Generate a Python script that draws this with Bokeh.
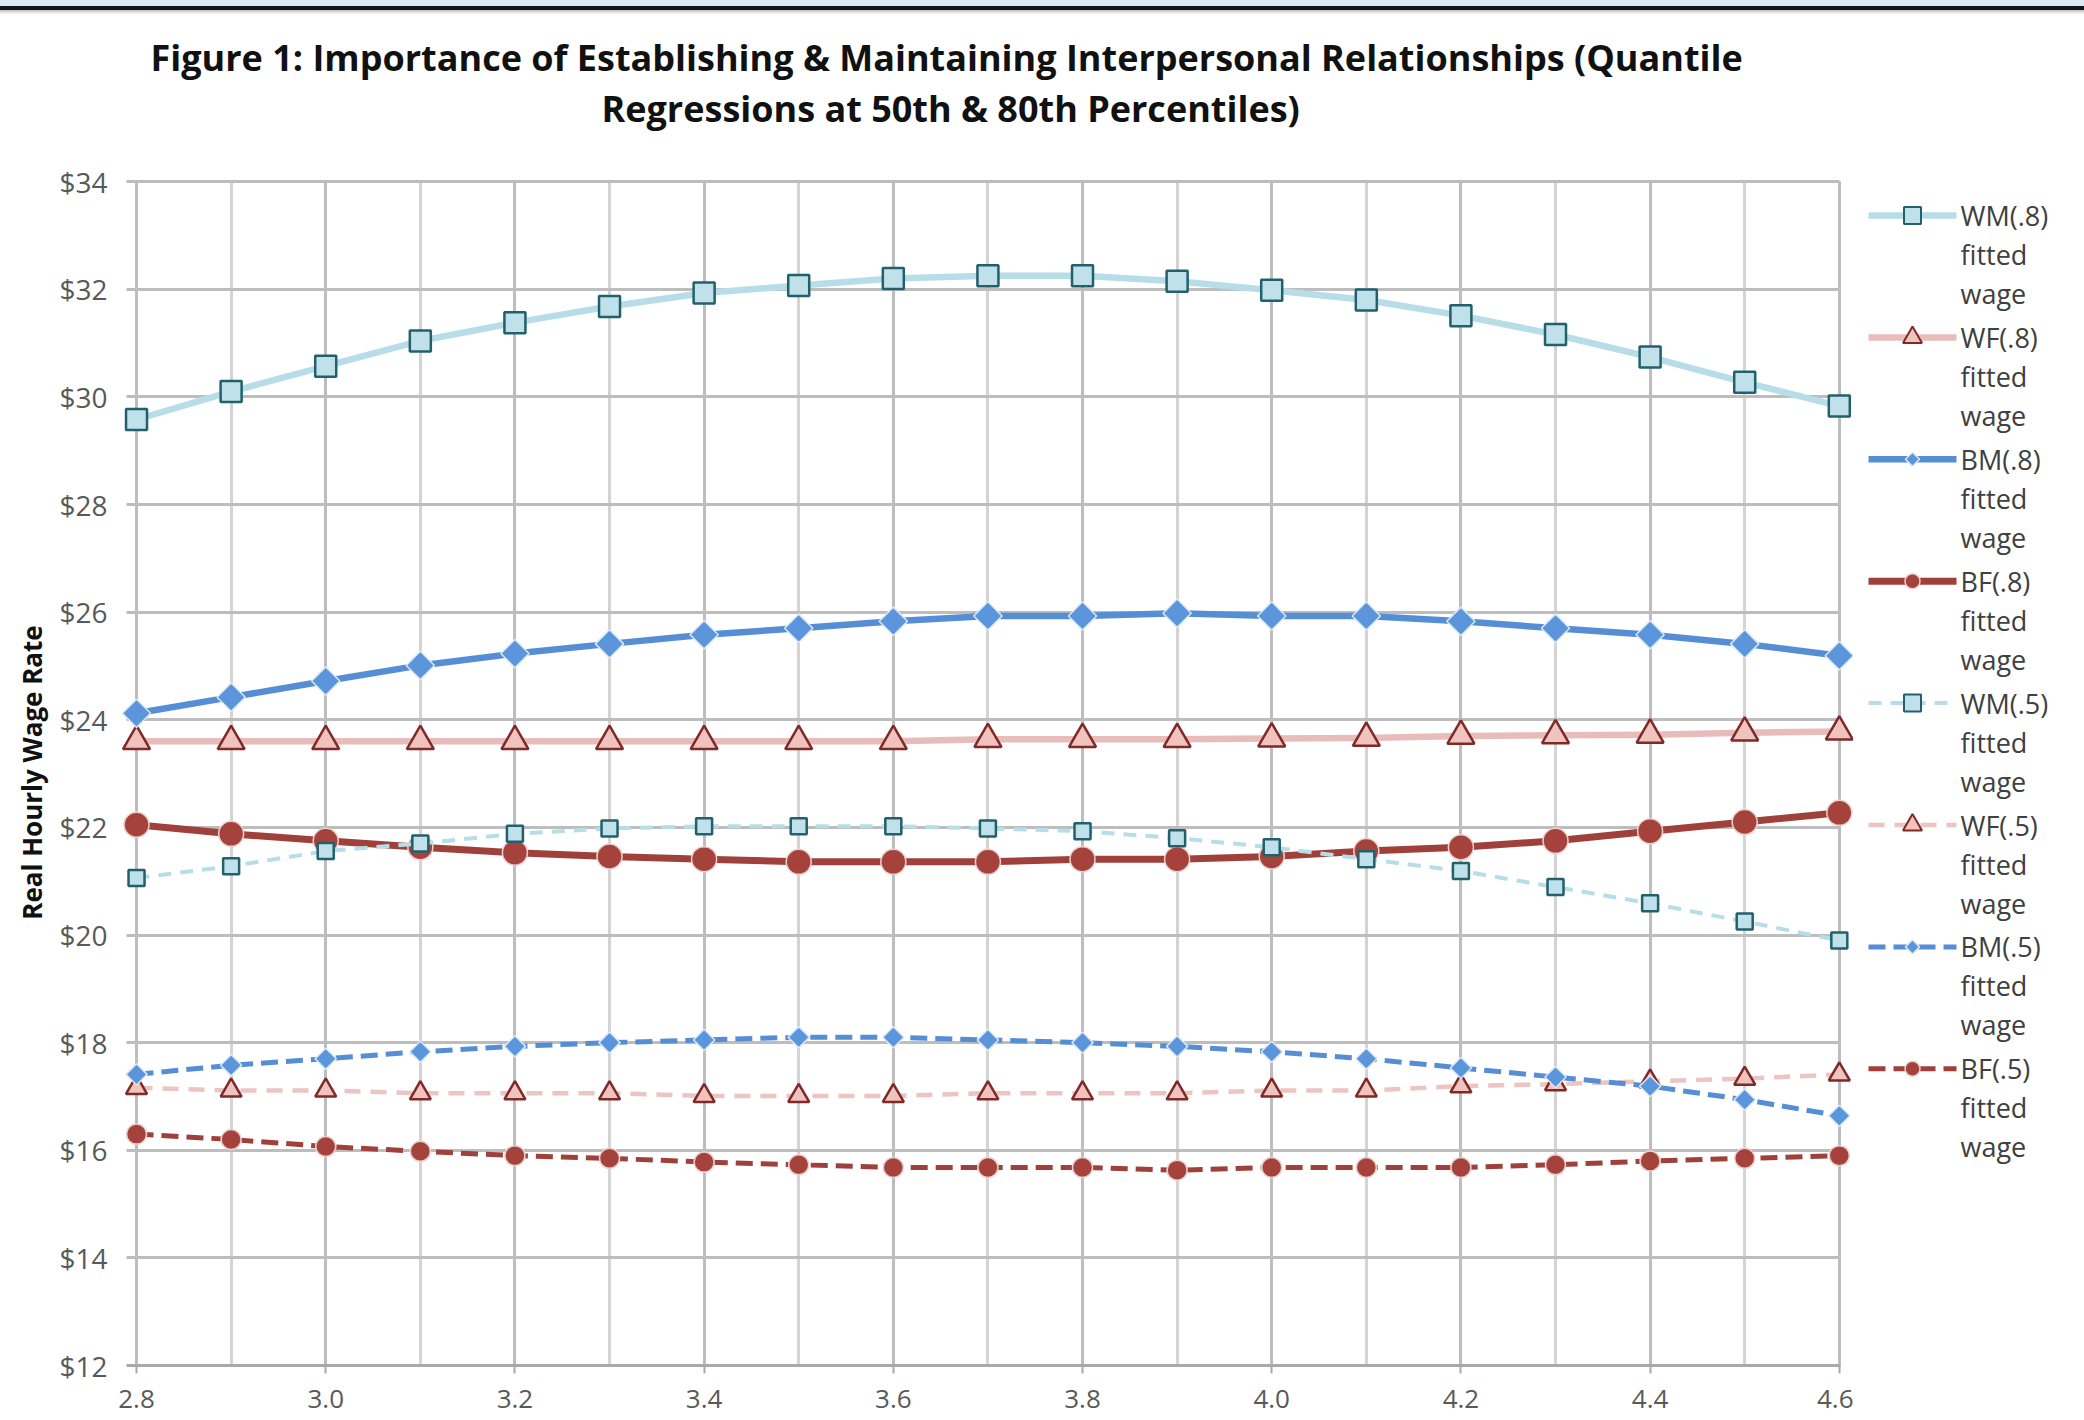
from bokeh.plotting import figure
from bokeh.layouts import column, row
from bokeh.models import (Range1d, SingleIntervalTicker, PrintfTickFormatter,
                          Title, Div)
from bokeh.core.properties import value
from bokeh.embed import file_html
from bokeh.resources import INLINE
import math

# GPA values on the horizontal axis
gpa = [2.8, 2.9, 3.0, 3.1, 3.2, 3.3, 3.4, 3.5, 3.6, 3.7,
       3.8, 3.9, 4.0, 4.1, 4.2, 4.3, 4.4, 4.5, 4.6]

# fitted hourly wages, 80th percentile
wm80 = [29.58, 30.10, 30.57, 31.04, 31.38, 31.68, 31.93, 32.07, 32.20, 32.25,
        32.25, 32.15, 31.98, 31.80, 31.51, 31.16, 30.74, 30.27, 29.83]
wf80 = [23.60, 23.60, 23.60, 23.60, 23.60, 23.60, 23.60, 23.60, 23.60, 23.64,
        23.64, 23.64, 23.65, 23.66, 23.70, 23.71, 23.72, 23.76, 23.78]
bm80 = [24.12, 24.42, 24.72, 25.01, 25.23, 25.41, 25.58, 25.70, 25.83, 25.93,
        25.93, 25.98, 25.93, 25.93, 25.83, 25.70, 25.58, 25.41, 25.19]
bf80 = [22.05, 21.88, 21.75, 21.63, 21.53, 21.46, 21.41, 21.36, 21.36, 21.36,
        21.41, 21.41, 21.46, 21.56, 21.63, 21.75, 21.93, 22.10, 22.27]

# fitted hourly wages, 50th percentile
wm50 = [21.06, 21.28, 21.56, 21.70, 21.88, 21.98, 22.02, 22.02, 22.02, 21.98,
        21.93, 21.80, 21.63, 21.41, 21.19, 20.89, 20.59, 20.25, 19.90]
wf50 = [17.16, 17.11, 17.11, 17.06, 17.06, 17.06, 17.01, 17.01, 17.01, 17.06,
        17.06, 17.06, 17.11, 17.11, 17.19, 17.23, 17.28, 17.33, 17.41]
bm50 = [17.41, 17.58, 17.70, 17.83, 17.93, 18.00, 18.05, 18.10, 18.10, 18.05,
        18.00, 17.93, 17.83, 17.70, 17.53, 17.36, 17.19, 16.94, 16.64]
bf50 = [16.30, 16.20, 16.07, 15.98, 15.90, 15.85, 15.78, 15.73, 15.68, 15.68,
        15.68, 15.63, 15.68, 15.68, 15.68, 15.73, 15.80, 15.85, 15.90]

series_names = ["WM(.8)", "WF(.8)", "BM(.8)", "BF(.8)",
                "WM(.5)", "WF(.5)", "BM(.5)", "BF(.5)"]
legend_tail = ["fitted", "wage"]

title_lines = ["Figure 1: Importance of Establishing & Maintaining Interpersonal Relationships (Quantile",
               "Regressions at 50th & 80th Percentiles)"]

FONT = "Open Sans"
TICK_GRAY = "#595959"
GRID = "#bdbdbd"

BAND_H = 14
PLOT_W, PLOT_H = 1853, 1406
LEG_W = 2084 - PLOT_W
BORDER_TOP, BORDER_BOTTOM = 165, 55

p = figure(width=PLOT_W, height=PLOT_H,
           x_range=Range1d(2.782, 4.615), y_range=Range1d(12, 34.04),
           output_backend="svg", toolbar_location=None, title=None,
           min_border_left=119, min_border_right=0,
           min_border_top=BORDER_TOP, min_border_bottom=BORDER_BOTTOM,
           background_fill_color="white", border_fill_color="white",
           outline_line_color=None)

# axes
xt = SingleIntervalTicker(interval=0.2, num_minor_ticks=2)
yt = SingleIntervalTicker(interval=2, num_minor_ticks=0)
p.xaxis.ticker = xt
p.yaxis.ticker = yt
p.xaxis.formatter = PrintfTickFormatter(format="%.1f")
p.yaxis.formatter = PrintfTickFormatter(format="$%d")

for ax in (p.xaxis, p.yaxis):
    ax.major_label_text_font = FONT
    ax.major_label_text_color = TICK_GRAY
    ax.minor_tick_line_color = None

p.yaxis.major_label_text_font_size = "28px"
p.xaxis.major_label_text_font_size = "26px"

p.yaxis.axis_line_color = None
p.yaxis.major_tick_line_color = None
p.yaxis.major_tick_out = 0
p.yaxis.major_tick_in = 0
p.yaxis.major_label_standoff = 12
p.yaxis.axis_label = "Real Hourly Wage Rate"
p.yaxis.axis_label_text_font = FONT
p.yaxis.axis_label_text_font_style = "bold"
p.yaxis.axis_label_text_font_size = "26px"
p.yaxis.axis_label_text_color = "#111111"
p.yaxis.axis_label_standoff = 6

# the upper bound sits a hair past 4.6 so the last tick survives rounding
p.xaxis.bounds = (2.789, 4.601)
p.xaxis.axis_line_color = "#a9a9a9"
p.xaxis.axis_line_width = 3
p.xaxis.major_tick_line_color = "#a9a9a9"
p.xaxis.major_tick_line_width = 2
p.xaxis.major_tick_out = 8
p.xaxis.major_tick_in = 0
p.xaxis.major_label_standoff = 16

# grid
p.xgrid.ticker = xt
p.ygrid.ticker = yt
p.xgrid.grid_line_color = GRID
p.xgrid.grid_line_width = 3
p.xgrid.minor_grid_line_color = "#d4d4d4"
p.xgrid.minor_grid_line_width = 3
p.ygrid.grid_line_color = GRID
p.ygrid.grid_line_width = 3
# keep the grid inside the plotted span (short stubs to the left of 2.8)
try:
    p.xgrid.cross_bounds = (12, 34)
    p.ygrid.cross_bounds = (2.789, 4.6)
except AttributeError:
    pass

# series styles: line, marker, and the smaller marker used in the key
styles = [
    dict(y=wm80, lc="#b7dee8", lw=6.5, dash="solid", m="square", s=21, ks=17, fc="#c0e1ea", mc="#23606e", mw=2.5, a=0),
    dict(y=wf80, lc="#e8bcba", lw=6.5, dash="solid", m="triangle", s=27, ks=19, fc="#f0c3bf", mc="#7f2a27", mw=2.5, a=0),
    dict(y=bm80, lc="#558ed5", lw=6.5, dash="solid", m="square", s=20, ks=10, fc="#5b96dc", mc="#dce8f7", mw=1.5, a=math.pi / 4),
    dict(y=bf80, lc="#a0403b", lw=7, dash="solid", m="circle", s=25, ks=15, fc="#a5423c", mc="#ead2d0", mw=1.5, a=0),
    dict(y=wm50, lc="#b7dee8", lw=4, dash="13 9", m="square", s=16, ks=17, fc="#c0e1ea", mc="#23606e", mw=2.5, a=0),
    dict(y=wf50, lc="#ecc4c2", lw=4.5, dash="16 10", m="triangle", s=21, ks=19, fc="#f0c3bf", mc="#7f2a27", mw=2.5, a=0),
    dict(y=bm50, lc="#558ed5", lw=5, dash="17 8", m="square", s=15, ks=10, fc="#5b96dc", mc="#dce8f7", mw=1.5, a=math.pi / 4),
    dict(y=bf50, lc="#a0403b", lw=5, dash="17 8", m="circle", s=20, ks=15, fc="#a5423c", mc="#ead2d0", mw=1.5, a=0),
]

for st in styles:
    p.line(gpa, st["y"], line_color=st["lc"], line_width=st["lw"],
           line_dash=st["dash"], line_join="round")
    p.scatter(gpa, st["y"], marker=st["m"], size=st["s"], angle=st["a"],
              fill_color=st["fc"], line_color=st["mc"], line_width=st["mw"])

# title: gap above the frame, then the second and first lines stacked upwards
p.add_layout(Title(text=" ", text_font=FONT, text_font_size="12px", standoff=28), "above")
p.add_layout(Title(text=title_lines[1], align="left", offset=482, standoff=0,
                   text_font=FONT, text_font_style="bold", text_font_size="36px",
                   text_color="#111111"), "above")
p.add_layout(Title(text=title_lines[0], align="left", offset=31, standoff=0,
                   text_font=FONT, text_font_style="bold", text_font_size="36px",
                   text_color="#111111"), "above")

# key panel to the right of the chart; its frame lines up with the chart's frame,
# so its vertical range is expressed in page pixels (growing downward)
frame_top_px = BAND_H + BORDER_TOP
frame_bottom_px = BAND_H + PLOT_H - BORDER_BOTTOM
key = figure(width=LEG_W, height=PLOT_H, x_range=Range1d(0, LEG_W),
             y_range=Range1d(frame_bottom_px, frame_top_px), output_backend="svg",
             toolbar_location=None, x_axis_type=None, y_axis_type=None,
             min_border_left=0, min_border_right=0,
             min_border_top=BORDER_TOP, min_border_bottom=BORDER_BOTTOM,
             outline_line_color=None,
             background_fill_color="white", border_fill_color="white")
key.grid.visible = False

KEY_X0, KEY_X1 = 15, 103          # sample line extent
KEY_TEXT_X = 107
KEY_TOP, KEY_PITCH, KEY_LINE = 215, 121.9, 39

for i, (name, st) in enumerate(zip(series_names, styles)):
    yc = KEY_TOP + i * KEY_PITCH
    key.line([KEY_X0, KEY_X1], [yc, yc], line_color=st["lc"], line_width=st["lw"],
             line_dash=st["dash"])
    key.scatter([(KEY_X0 + KEY_X1) / 2], [yc], marker=st["m"], size=st["ks"],
                angle=st["a"], fill_color=st["fc"], line_color=st["mc"],
                line_width=min(st["mw"], 2))
    rows = [name] + legend_tail
    key.text([KEY_TEXT_X] * 3, [yc + k * KEY_LINE for k in range(3)], text=rows,
             text_font=value(FONT), text_font_size="27px", text_baseline="middle",
             text_align="left", text_color="#404040")

band = Div(text="", width=2084, height=BAND_H, margin=0,
           styles={"background": "linear-gradient(to bottom, #dcebf3 0px, #dcebf3 6px, #141414 6px, #141414 10px, #bdbdbd 10px, #ffffff 14px)"})

layout = column(band, row(p, key, spacing=0), spacing=0)
open("out.html", "w").write(file_html(layout, INLINE))
